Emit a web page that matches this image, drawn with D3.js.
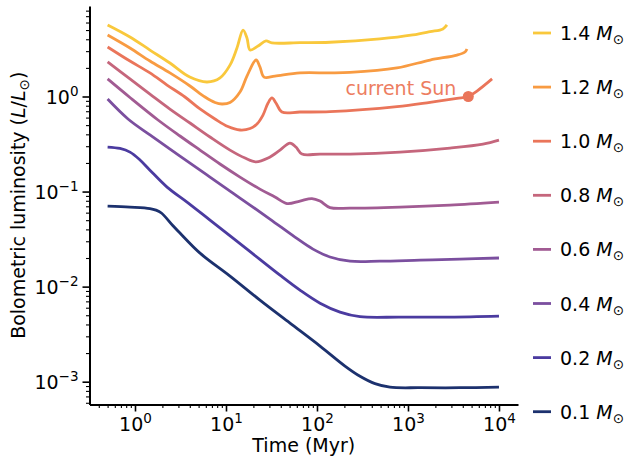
<!DOCTYPE html>
<html>
<head>
<meta charset="utf-8">
<script src="https://cdn.jsdelivr.net/npm/d3@7"></script>
<style>
  html, body { margin: 0; padding: 0; background: #ffffff; }
  svg { display: block; font-family: "DejaVu Sans", sans-serif; }
</style>
</head>
<body>
<svg id="chart" width="626" height="459"></svg>
<script>
// ---- data (time in Myr, luminosity in L_sun) ----
const masses = ["1.4", "1.2", "1.0", "0.8", "0.6", "0.4", "0.2", "0.1"];
const colors = ["#f9c83c", "#f89b42", "#ea755a", "#c5667c", "#a15b93", "#7b4f9f", "#4b3ba0", "#1c316e"];

const t_14 = [0.5, 0.88, 1.46, 2.42, 4.0, 6.2, 8.6, 11.1, 13.2, 15.4, 17.0, 18.4, 22.5, 27.5, 32, 65, 139, 490, 1130, 1750, 2420, 2680];
const L_14 = [5.66, 4.23, 3.08, 2.25, 1.60, 1.42, 1.57, 2.15, 3.24, 5.0, 4.13, 3.08, 3.40, 3.84, 3.66, 3.68, 3.72, 4.03, 4.44, 4.81, 5.14, 5.66];

const t_12 = [0.5, 0.88, 1.46, 2.42, 4.02, 5.88, 7.57, 9.04, 11.07, 14.25, 17.0, 21.4, 23.6, 26.2, 34.5, 65, 139, 231, 757, 1750, 3450, 4230, 4450];
const L_12 = [4.44, 3.24, 2.36, 1.77, 1.29, 0.988, 0.865, 0.834, 0.865, 1.115, 1.64, 2.42, 2.05, 1.60, 1.64, 1.77, 1.77, 1.79, 2.0, 2.42, 2.73, 2.94, 3.16];

const t_10 = [0.5, 0.88, 1.46, 2.25, 3.54, 5.18, 7.57, 10.5, 14.25, 18.4, 21.9, 25.5, 29.0, 32.0, 35.4, 41.2, 65, 139, 757, 1750, 3450, 4600, 5730, 8400];
const L_10 = [3.32, 2.36, 1.77, 1.32, 0.988, 0.739, 0.580, 0.483, 0.444, 0.460, 0.514, 0.638, 0.855, 0.965, 0.855, 0.687, 0.687, 0.692, 0.781, 0.869, 0.957, 1.0, 1.14, 1.53];

const t_08 = [0.5, 0.88, 1.46, 2.42, 4.02, 6.67, 11.07, 16.2, 21.4, 29.0, 39.2, 50.5, 58.7, 68.4, 108, 231, 817, 2895, 6670, 10000];
const L_08 = [2.31, 1.53, 1.06, 0.738, 0.526, 0.375, 0.273, 0.225, 0.205, 0.225, 0.273, 0.324, 0.294, 0.248, 0.248, 0.248, 0.260, 0.287, 0.316, 0.348];

const t_06 = [0.5, 0.88, 1.79, 3.12, 5.18, 8.59, 14.25, 23.6, 34.5, 46.8, 65, 88, 108, 139, 231, 817, 2895, 10000];
const L_06 = [1.53, 0.976, 0.566, 0.384, 0.273, 0.195, 0.142, 0.106, 0.0875, 0.0748, 0.0794, 0.0844, 0.0794, 0.0679, 0.0670, 0.0687, 0.0721, 0.0775];

const t_04 = [0.5, 0.838, 1.46, 3.12, 6.67, 14.25, 30.4, 57.3, 90.4, 139, 231, 492, 1355, 3725, 10000];
const L_04 = [0.94, 0.580, 0.394, 0.236, 0.142, 0.0855, 0.0514, 0.0332, 0.0248, 0.0205, 0.0185, 0.0185, 0.0190, 0.0195, 0.0200];

const t_02 = [0.5, 0.684, 0.881, 1.135, 1.46, 2.25, 3.73, 6.67, 17.0, 39.2, 65, 108, 179, 297, 817, 2895, 10000];
const L_02 = [0.294, 0.284, 0.260, 0.215, 0.168, 0.1115, 0.0775, 0.0501, 0.0248, 0.0132, 0.00919, 0.00670, 0.00540, 0.00483, 0.00478, 0.00478, 0.00489];

const t_01 = [0.5, 0.881, 1.46, 1.7, 1.95, 2.6, 3.12, 5.18, 11.07, 23.6, 50.5, 108, 203, 297, 434, 634, 1355, 3725, 10000];
const L_01 = [0.0704, 0.0687, 0.0663, 0.0638, 0.0595, 0.0440, 0.0366, 0.0225, 0.0129, 0.00721, 0.00413, 0.00237, 0.00146, 0.00114, 0.000953, 0.000875, 0.000864, 0.000864, 0.000875];

const sunT = 4600, sunL = 1.0;
const sunLabel = "current Sun";

const xMajor = [1, 10, 100, 1000, 10000];
const xMajorExp = ["0", "1", "2", "3", "4"];
const yMajor = [1e-3, 1e-2, 1e-1, 1];
const yMajorExp = ["\u22123", "\u22122", "\u22121", "0"];
const xLabel = "Time (Myr)";

const series = [
  [t_14, L_14], [t_12, L_12], [t_10, L_10], [t_08, L_08],
  [t_06, L_06], [t_04, L_04], [t_02, L_02], [t_01, L_01]
];

// ---- layout ----
const svg = d3.select("#chart");
const pLeft = 89.5, pRight = 518, pTop = 6, pBottom = 404.5;
const FS = 19;

const x = d3.scaleLog().domain([Math.pow(10, -0.5), Math.pow(10, 4.209)]).range([pLeft, pRight]);
const y = d3.scaleLog().domain([Math.pow(10, -3.24), Math.pow(10, 0.952)]).range([pBottom, pTop]);

function minorTicks(scale) {
  const [a, b] = scale.domain();
  const out = [];
  for (let e = Math.floor(Math.log10(a)) - 1; e <= Math.ceil(Math.log10(b)); e++) {
    for (let k = 2; k <= 9; k++) {
      const v = k * Math.pow(10, e);
      if (v >= a && v <= b) out.push(v);
    }
  }
  return out;
}

// lines
const line = d3.line().x(d => x(d[0])).y(d => y(d[1])).curve(d3.curveCatmullRom.alpha(0.5));
const plotG = svg.append("g");
series.slice().reverse().forEach((s, ri) => {
  const i = series.length - 1 - ri;
  const pts = s[0].map((t, j) => [t, s[1][j]]);
  plotG.append("path")
    .attr("d", line(pts))
    .attr("fill", "none")
    .attr("stroke", colors[i])
    .attr("stroke-width", 2.8)
    .attr("stroke-linejoin", "round");
});

// sun marker
plotG.append("circle").attr("cx", x(sunT)).attr("cy", y(sunL)).attr("r", 5.5).attr("fill", colors[2]);
plotG.append("text")
  .attr("x", x(sunT) - 12).attr("y", y(sunL) - 1)
  .attr("text-anchor", "end")
  .attr("font-size", FS)
  .attr("fill", "#ed7d61")
  .text(sunLabel);

// axes
const xMinorAxis = d3.axisBottom(x).tickValues(minorTicks(x)).tickSize(3.5).tickFormat("");
const xMajorAxis = d3.axisBottom(x).tickValues(xMajor).tickSize(7).tickSizeOuter(0).tickFormat("");
const yMinorAxis = d3.axisLeft(y).tickValues(minorTicks(y)).tickSize(3.5).tickFormat("");
const yMajorAxis = d3.axisLeft(y).tickValues(yMajor).tickSize(7).tickSizeOuter(0).tickFormat("");

const gxm = svg.append("g").attr("transform", `translate(0,${pBottom})`).call(xMinorAxis);
gxm.select(".domain").remove();
gxm.selectAll("line").attr("stroke", "#000").attr("stroke-width", 1.1);
const gx = svg.append("g").attr("transform", `translate(0,${pBottom})`).call(xMajorAxis);
gx.select(".domain").attr("stroke", "#000").attr("stroke-width", 2);
gx.selectAll("line").attr("stroke", "#000").attr("stroke-width", 1.6);

const gym = svg.append("g").attr("transform", `translate(${pLeft},0)`).call(yMinorAxis);
gym.select(".domain").remove();
gym.selectAll("line").attr("stroke", "#000").attr("stroke-width", 1.1);
const gy = svg.append("g").attr("transform", `translate(${pLeft},0)`).call(yMajorAxis);
gy.select(".domain").attr("stroke", "#000").attr("stroke-width", 2);
gy.selectAll("line").attr("stroke", "#000").attr("stroke-width", 1.6);

// tick labels with superscripts
gx.selectAll(".tick").each(function(d) {
  const t = d3.select(this).append("text")
    .attr("x", 0).attr("y", 26)
    .attr("text-anchor", "middle").attr("fill", "#000")
    .attr("font-size", FS).attr("font-family", "DejaVu Sans");
  t.append("tspan").text("10");
  t.append("tspan").attr("font-size", 13.5).attr("dy", -8).text(xMajorExp[xMajor.indexOf(d)]);
});
gy.selectAll(".tick").each(function(d) {
  const t = d3.select(this).append("text")
    .attr("x", -11).attr("y", 7)
    .attr("text-anchor", "end").attr("fill", "#000")
    .attr("font-size", FS).attr("font-family", "DejaVu Sans");
  t.append("tspan").text("10");
  t.append("tspan").attr("font-size", 13.5).attr("dy", -8).text(yMajorExp[yMajor.indexOf(d)]);
});

// axis labels
svg.append("text")
  .attr("x", (pLeft + pRight) / 2).attr("y", 452)
  .attr("text-anchor", "middle").attr("font-size", FS)
  .text(xLabel);

const yl = svg.append("text")
  .attr("transform", `translate(25,${(pTop + pBottom) / 2}) rotate(-90)`)
  .attr("text-anchor", "middle").attr("font-size", FS);
yl.append("tspan").text("Bolometric luminosity (");
yl.append("tspan").attr("font-style", "italic").text("L");
yl.append("tspan").text("/");
yl.append("tspan").attr("font-style", "italic").text("L");
yl.append("tspan").attr("font-size", 13.5).attr("dy", 4).text("\u2299");
yl.append("tspan").attr("dy", -4).text(")");

// legend
const lg = svg.append("g");
masses.forEach((m, i) => {
  const cy = 33 + i * 54.1;
  lg.append("line").attr("x1", 533).attr("x2", 551).attr("y1", cy).attr("y2", cy)
    .attr("stroke", colors[i]).attr("stroke-width", 2.8);
  const t = lg.append("text").attr("x", 560).attr("y", cy + 7).attr("font-size", FS);
  t.append("tspan").text(m + " ");
  t.append("tspan").attr("font-style", "italic").text("M");
  t.append("tspan").attr("font-size", 13.5).attr("dy", 4).text("\u2299");
});
</script>
</body>
</html>
